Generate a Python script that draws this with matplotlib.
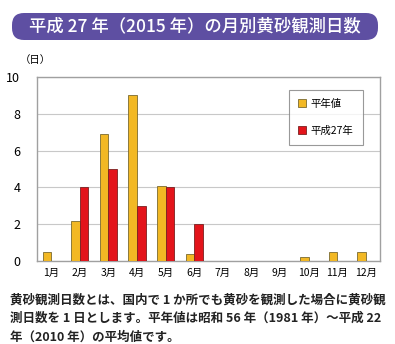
import matplotlib
matplotlib.use("Agg")
import matplotlib.pyplot as plt
from matplotlib.patches import FancyBboxPatch
import numpy as np

plt.rcParams['font.family'] = ['Noto Sans CJK JP', 'DejaVu Sans']

months = ["1月", "2月", "3月", "4月", "5月", "6月", "7月", "8月", "9月", "10月", "11月", "12月"]
normal = [0.5, 2.2, 6.9, 9.0, 4.1, 0.4, 0, 0, 0, 0.2, 0.5, 0.5]
y2015 = [0, 4, 5, 3, 4, 2, 0, 0, 0, 0, 0, 0]
yticks = [0, 2, 4, 6, 8, 10]
title = "平成 27 年（2015 年）の月別黄砂観測日数"
note = ["黄砂観測日数とは、国内で 1 か所でも黄砂を観測した場合に黄砂観",
        "測日数を 1 日とします。平年値は昭和 56 年（1981 年）～平成 22",
        "年（2010 年）の平均値です。"]

W, H = 395, 344
fig = plt.figure(figsize=(W/100, H/100), dpi=100)
fig.patch.set_facecolor('white')

# background axes in pixel coordinates for the title pill
bg = fig.add_axes([0, 0, 1, 1])
bg.set_xlim(0, W)
bg.set_ylim(H, 0)
bg.axis('off')
box = FancyBboxPatch((12, 13), 366, 27,
                     boxstyle="round,pad=0,rounding_size=12",
                     facecolor='#5E4FA2', edgecolor='none')
bg.add_patch(box)
bg.text(195, 26.5, title, color='white', fontsize=12.5, ha='center', va='center',
        fontweight='medium')

ax = fig.add_axes([37/W, 1 - 261/H, (380-37)/W, (261-77)/H])
x = np.arange(len(months))
w = 0.3
ax.bar(x - w/2, normal, w, color='#F2B824', edgecolor='#7a6a30', linewidth=0.6, label='平年値', zorder=3)
ax.bar(x + w/2, y2015, w, color='#E3141B', edgecolor='#7a2020', linewidth=0.6, label='平成27年', zorder=3)
ax.set_xlim(-0.5, 11.5)
ax.set_ylim(0, 10)
ax.set_yticks(yticks)
ax.set_xticks(x)
ax.set_xticklabels(months, fontsize=7.5)
ax.tick_params(axis='y', labelsize=9, length=0, pad=12)
ax.tick_params(axis='x', length=0, pad=5)
ax.grid(axis='y', color='#c8c8c8', linewidth=0.8, zorder=0)
for s in ['top', 'right', 'left', 'bottom']:
    ax.spines[s].set_color('#a0a0a0')
    ax.spines[s].set_linewidth(1.0)

leg = ax.legend(loc='upper right', bbox_to_anchor=(0.965, 0.96), fontsize=7.5, frameon=True,
                fancybox=False, edgecolor='#808080', handlelength=0.8, handleheight=0.8,
                labelspacing=1.6, borderpad=0.9, handletextpad=0.4)
leg.get_frame().set_linewidth(0.8)

fig.text(35/W, 1 - 60/H, "（日）", fontsize=7.5, ha='center', va='center')

for i, line in enumerate(note):
    fig.text(10/W, 1 - (300 + i*18.5)/H, line, fontsize=9.0, ha='left', va='center',
             fontweight='bold', color='#222222')

fig.savefig("out.png", dpi=100)
